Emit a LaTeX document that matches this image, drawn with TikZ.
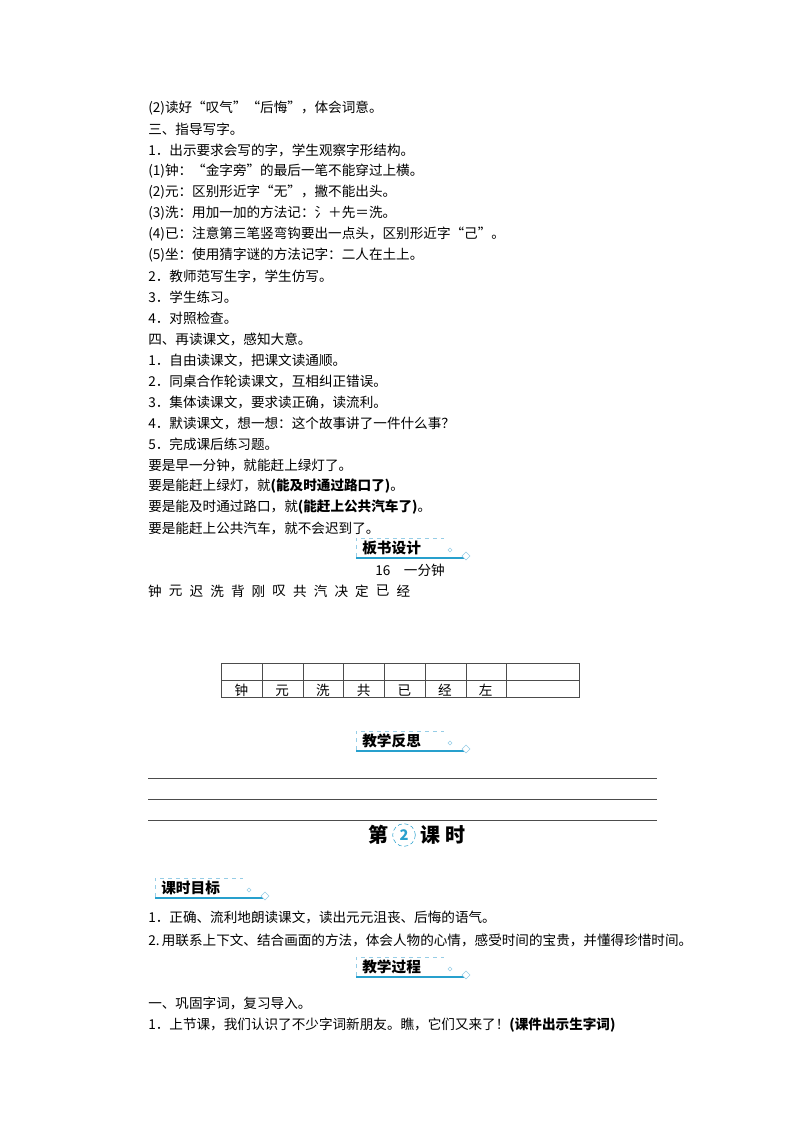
\documentclass[tikz,border=0pt]{standalone}
\usepackage{fontspec}
\setmainfont{Noto Sans CJK SC}
\definecolor{bannerblue}{RGB}{40,160,205}
\definecolor{lightblue}{RGB}{150,205,230}
\tikzset{
  txt/.style={anchor=west,inner sep=0pt,font=\fontsize{10.2pt}{12pt}\selectfont},
  ctr/.style={inner sep=0pt,font=\fontsize{10.2pt}{12pt}\selectfont},
  btitle/.style={anchor=west,inner sep=0pt,font=\fontsize{11pt}{12pt}\selectfont\bfseries},
  big/.style={inner sep=0pt,font=\fontsize{15pt}{16pt}\selectfont\bfseries},
  rule/.style={draw=black!70,line width=0.6pt}
}
\newcommand{\mybanner}[3]{%
  \draw[lightblue,dashed,line width=0.7pt] (#1,#2+9) -- (#1,#2-10) -- (#1+88,#2-10);
  \draw[bannerblue,line width=1.4pt] (#1,#2+10) -- (#1+108,#2+10);
  \draw[lightblue,fill=white] (#1+110,#2+4) -- (#1+114,#2+8) -- (#1+110,#2+12) -- (#1+106,#2+8) -- cycle;
  \draw[lightblue] (#1+94,#2) -- (#1+96,#2+2) -- (#1+94,#2+4) -- (#1+92,#2+2) -- cycle;
  \node[btitle] at (#1+6,#2) {#3};}
\begin{document}
\begin{tikzpicture}[x=0.75pt,y=-0.75pt]
\useasboundingbox (0,0) rectangle (800,1132);
\foreach \t [count=\i from 0] in {%
 {(2)读好“叹气”“后悔”，体会词意。},
 {三、指导写字。},
 {1．出示要求会写的字，学生观察字形结构。},
 {(1)钟：“金字旁”的最后一笔不能穿过上横。},
 {(2)元：区别形近字“无”，撇不能出头。},
 {(3)洗：用加一加的方法记：氵＋先＝洗。},
 {(4)已：注意第三笔竖弯钩要出一点头，区别形近字“己”。},
 {(5)坐：使用猜字谜的方法记字：二人在土上。},
 {2．教师范写生字，学生仿写。},
 {3．学生练习。},
 {4．对照检查。},
 {四、再读课文，感知大意。},
 {1．自由读课文，把课文读通顺。},
 {2．同桌合作轮读课文，互相纠正错误。},
 {3．集体读课文，要求读正确，读流利。},
 {4．默读课文，想一想：这个故事讲了一件什么事？},
 {5．完成课后练习题。},
 {要是早一分钟，就能赶上绿灯了。},
 {要是能赶上绿灯，就\textbf{(能及时通过路口了)}。},
 {要是能及时通过路口，就\textbf{(能赶上公共汽车了)}。},
 {要是能赶上公共汽车，就不会迟到了。}}
 \node[txt] (l\i) at (148,{108+21*\i}) {\t};
\mybanner{356}{548}{板书设计}
\node[ctr] (title16) at (410,570) {16\quad 一分钟};
\foreach \c [count=\k from 0] in {钟,元,迟,洗,背,刚,叹,共,汽,决,定,已,经}
  \node[ctr] (ch\k) at ({155+20.7*\k},591) {\c};
\draw[rule] (221,663) rectangle (579,697);
\draw[rule] (221,680) -- (579,680);
\foreach \x in {262,303,343,384,425,466,506} \draw[rule] (\x,663) -- (\x,697);
\foreach \c [count=\k from 0] in {钟,元,洗,共,已,经,左}
  \node[ctr,anchor=base] (tc\k) at ({241.5+40.7*\k},695) {\c};
\mybanner{356}{741}{教学反思}
\foreach \y in {778,799,820} \draw[black!70,line width=0.6pt] (148,\y) -- (657,\y);
\node[big] (k1) at (378,835) {第};
\node[draw=bannerblue,densely dashed,circle,minimum size=17pt,inner sep=0pt,font=\fontsize{11pt}{11pt}\selectfont\bfseries\itshape,text=bannerblue] (two) at (404,835) {2};
\node[big] (k2) at (430,835) {课};
\node[big] (k3) at (455,835) {时};
\mybanner{155}{888}{课时目标}
\node[txt] (g1) at (148,917) {1．正确、流利地朗读课文，读出元元沮丧、后悔的语气。};
\node[txt] (g2) at (148,940) {2.\,用联系上下文、结合画面的方法，体会人物的心情，感受时间的宝贵，并懂得珍惜时间。};
\mybanner{356}{967}{教学过程}
\node[txt] (p1) at (148,1003) {一、巩固字词，复习导入。};
\node[txt] (p2) at (148,1025) {1．上节课，我们认识了不少字词新朋友。瞧，它们又来了！\textbf{(课件出示生字词)}};
\end{tikzpicture}
\end{document}
